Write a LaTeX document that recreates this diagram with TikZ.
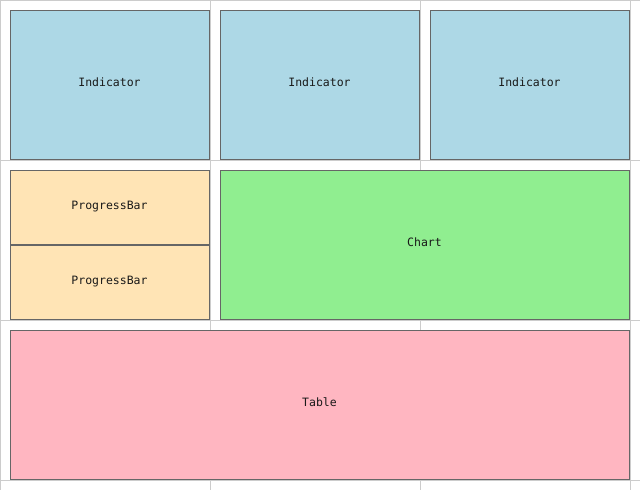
\documentclass[tikz,border=0pt]{standalone}
\usepackage{fontspec}
\setmonofont{DejaVu Sans Mono}
\usetikzlibrary{positioning}
\definecolor{indicatorblue}{HTML}{ADD8E6}
\definecolor{barorange}{HTML}{FFE4B5}
\definecolor{chartgreen}{HTML}{90EE90}
\definecolor{tablepink}{HTML}{FFB6C1}
\definecolor{boxborder}{HTML}{666666}
\definecolor{gridgray}{HTML}{CCCCCC}
\tikzstyle{widget} = [rectangle, draw=boxborder, line width=1pt, inner sep=0pt,
    outer sep=0pt, text=black!90, text height=8.4pt, text depth=5pt,
    font=\ttfamily\fontsize{11.5pt}{13pt}\selectfont]
\tikzset{
  indicator/.style={widget, fill=indicatorblue, minimum width=199pt, minimum height=149pt},
  progress/.style={widget, fill=barorange, minimum width=199pt, minimum height=74pt},
  chart/.style={widget, fill=chartgreen, minimum width=409pt, minimum height=149pt},
  table/.style={widget, fill=tablepink, minimum width=619pt, minimum height=149pt},
  gridline/.style={draw=gridgray, line width=1pt},
}
\begin{document}
\begin{tikzpicture}[x=1pt, y=-1pt]
    \useasboundingbox (0,0) rectangle (640,490);
    % Layout grid
    \foreach \gx in {0.5,210,420,630}
        \draw [gridline] (\gx,0) -- (\gx,490);
    \foreach \gy in {0.5,160,320,480}
        \draw [gridline] (0,\gy) -- (640,\gy);
    % Place nodes
    \node [indicator] (indicatorOne) at (109.5,85) {Indicator};
    \node [indicator] (indicatorTwo) at (319.5,85) {Indicator};
    \node [indicator] (indicatorThree) at (529.5,85) {Indicator};
    \node [progress] (progressOne) at (109.5,207.5) {ProgressBar};
    \node [progress, below=1pt of progressOne] (progressTwo) {ProgressBar};
    \node [chart] (chart) at (424.5,245) {Chart};
    \node [table] (table) at (319.5,405) {Table};
\end{tikzpicture}
\end{document}
